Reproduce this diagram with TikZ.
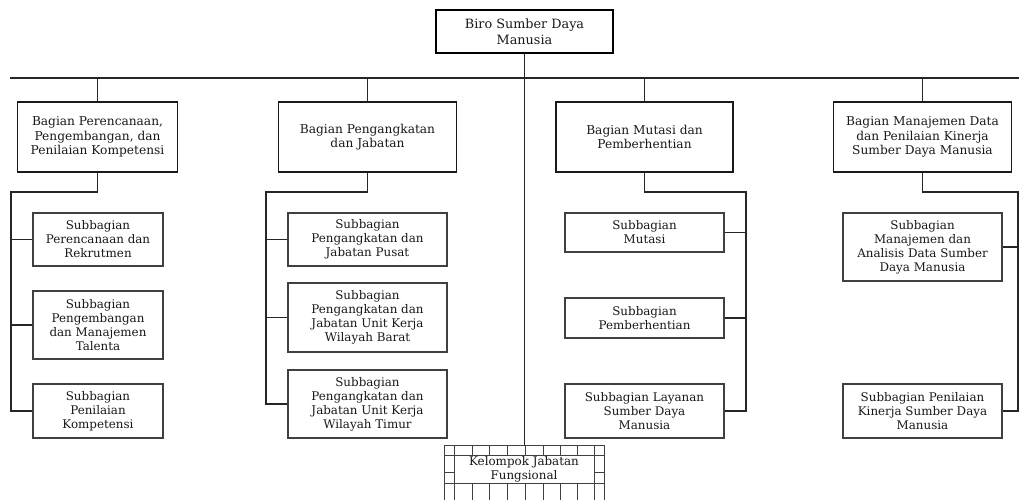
\documentclass[tikz,border=0pt]{standalone}
\usepackage{fontspec}
\setmainfont{DejaVu Serif}
\begin{document}
\begin{tikzpicture}[x=1pt,y=-1pt,
  base/.style={draw, align=center, inner sep=0pt, text=black!90, font=\fontsize{11.9}{14}\selectfont},
  topbox/.style={base, line width=2.6pt, font=\fontsize{12.8}{16}\selectfont},
  bagbox/.style={base, line width=1.8pt, draw=black!90, font=\fontsize{12.2}{14.5}\selectfont},
  subbox/.style={base, line width=1.1pt, draw=black!75},
  conn/.style={line width=1.3pt, draw=black!85},
  brick/.style={line width=0.9pt, draw=black!75}]
\clip (0,0) rectangle (1019,500);
\fill[white] (0,0) rectangle (1019,500);
% top
\node[topbox, minimum width=177, minimum height=43] (top) at (524.5,31.5) {Biro Sumber Daya\\Manusia};
% bagian
\node[bagbox, minimum width=160, minimum height=70] (b1) at (97.5,137) {Bagian Perencanaan,\\Pengembangan, dan\\Penilaian Kompetensi};
\node[bagbox, minimum width=178, minimum height=70] (b2) at (367.5,137) {Bagian Pengangkatan\\dan Jabatan};
\node[bagbox, minimum width=177, minimum height=70] (b3) at (644.5,137) {Bagian Mutasi dan\\Pemberhentian};
\node[bagbox, minimum width=178, minimum height=70] (b4) at (922.5,137) {Bagian Manajemen Data\\dan Penilaian Kinerja\\Sumber Daya Manusia};
% sub 1
\node[subbox, minimum width=130, minimum height=53] (s11) at (98,239.5) {Subbagian\\Perencanaan dan\\Rekrutmen};
\node[subbox, minimum width=130, minimum height=68] (s12) at (98,325) {Subbagian\\Pengembangan\\dan Manajemen\\Talenta};
\node[subbox, minimum width=130, minimum height=54] (s13) at (98,411) {Subbagian\\Penilaian\\Kompetensi};
% sub 2
\node[subbox, minimum width=159, minimum height=53] (s21) at (367.5,239.5) {Subbagian\\Pengangkatan dan\\Jabatan Pusat};
\node[subbox, minimum width=159, minimum height=69] (s22) at (367.5,317.5) {Subbagian\\Pengangkatan dan\\Jabatan Unit Kerja\\Wilayah Barat};
\node[subbox, minimum width=159, minimum height=68] (s23) at (367.5,404) {Subbagian\\Pengangkatan dan\\Jabatan Unit Kerja\\Wilayah Timur};
% sub 3
\node[subbox, minimum width=159, minimum height=39] (s31) at (644.5,232.5) {Subbagian\\Mutasi};
\node[subbox, minimum width=159, minimum height=40] (s32) at (644.5,318) {Subbagian\\Pemberhentian};
\node[subbox, minimum width=159, minimum height=54] (s33) at (644.5,411) {Subbagian Layanan\\Sumber Daya\\Manusia};
% sub 4
\node[subbox, minimum width=159, minimum height=68] (s41) at (922.5,247) {Subbagian\\Manajemen dan\\Analisis Data Sumber\\Daya Manusia};
\node[subbox, minimum width=159, minimum height=54] (s42) at (922.5,411) {Subbagian Penilaian\\Kinerja Sumber Daya\\Manusia};
% kelompok
\node[draw=none, minimum width=159, minimum height=64, inner sep=0pt] (kelo) at (524.5,478) {};
\node[subbox, line width=0.9pt, minimum width=140, minimum height=28] (kel) at (524,469) {Kelompok Jabatan\\Fungsional};
\draw[brick] (kelo.north west) rectangle (kelo.south east);
\foreach \x in {454,472,489,507,525,543,560,577,594}{
  \draw[brick] (\x,446) -- (\x,455);
  \draw[brick] (\x,483) -- (\x,510);
}
\draw[brick] (445,455) -- (604,455);
\draw[brick] (445,483) -- (604,483);
\draw[brick] (445,472) -- (454,472);
\draw[brick] (594,472) -- (604,472);
% connectors
\coordinate (hl) at (10,78);
\coordinate (hr) at (1019,78);
\draw[conn] (hl) -- (hr);
\draw[conn] (top.south) -- (kelo.north);
\foreach \b in {b1,b2,b3,b4}{
  \draw[conn] (\b.north) -- (\b.north |- hl);
}
\coordinate (r1) at (11,192);
\coordinate (r2) at (266,192);
\coordinate (r3) at (746,192);
\coordinate (r4) at (1018,192);
\draw[conn] (b1.south) |- (r1) -- (r1 |- s13.west) -- (s13.west);
\draw[conn] (r1 |- s11.west) -- (s11.west);
\draw[conn] (r1 |- s12.west) -- (s12.west);
\draw[conn] (b2.south) |- (r2) -- (r2 |- s23.west) -- (s23.west);
\draw[conn] (r2 |- s21.west) -- (s21.west);
\draw[conn] (r2 |- s22.west) -- (s22.west);
\draw[conn] (b3.south) |- (r3) -- (r3 |- s33.east) -- (s33.east);
\draw[conn] (r3 |- s31.east) -- (s31.east);
\draw[conn] (r3 |- s32.east) -- (s32.east);
\draw[conn] (b4.south) |- (r4) -- (r4 |- s42.east) -- (s42.east);
\draw[conn] (r4 |- s41.east) -- (s41.east);
\end{tikzpicture}
\end{document}
